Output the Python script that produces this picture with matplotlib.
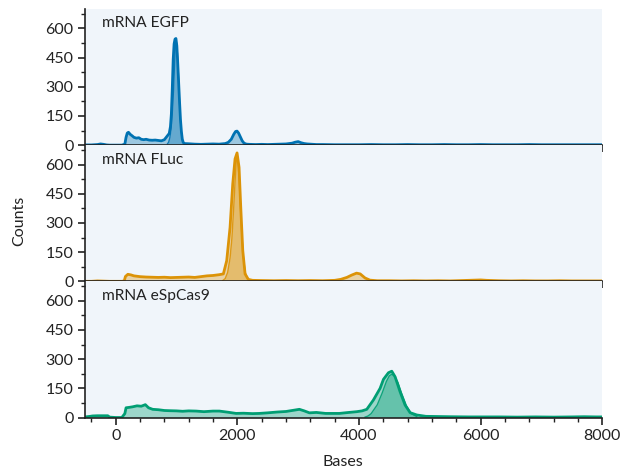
import matplotlib
matplotlib.use("Agg")
import matplotlib.pyplot as plt
from matplotlib.ticker import MultipleLocator

plt.rcParams['font.family'] = ['Lato', 'DejaVu Sans']

# ---- data ----
labels = ["mRNA EGFP", "mRNA FLuc", "mRNA eSpCas9"]
colors = ["#0072B2", "#DC9307", "#009E73"]

egfp_x = [-500, -400, -300, -250, -200, -150, -100, 0, 100, 150, 170, 190, 210, 240, 270,
          300, 340, 380, 420, 460, 500, 550, 600, 650, 700, 750, 800, 830, 860, 880, 900,
          915, 930, 945, 960, 975, 990, 1005, 1020, 1035, 1050, 1065, 1080, 1095, 1110,
          1130, 1200, 1300, 1400, 1500, 1600, 1700, 1800, 1850, 1900, 1940, 1970, 1995,
          2020, 2050, 2080, 2110, 2150, 2200, 2300, 2400, 2500, 2600, 2700, 2800, 2900,
          2950, 3000, 3050, 3100, 3150, 3200, 3300, 3400, 3600, 3800, 4000, 4200, 4400,
          4600, 4800, 5000, 5200, 5400, 5600, 5800, 6000, 6200, 6400, 6600, 6800, 7000,
          7200, 7400, 7600, 7800, 8000]
egfp_y = [1, 1, 3, 6, 4, 1, 0, 0, 0, 5, 40, 62, 66, 55, 48,
          40, 36, 38, 30, 28, 30, 26, 25, 26, 24, 22, 28, 40, 52, 60, 95,
          160, 290, 440, 520, 545, 548, 510, 420, 320, 220, 130, 70, 30, 14,
          8, 7, 5, 4, 5, 6, 5, 8, 14, 30, 55, 70, 72,
          62, 42, 22, 10, 5, 4, 3, 4, 3, 4, 5, 6, 10,
          15, 18, 12, 8, 6, 5, 3, 3, 2, 2, 2, 3, 2,
          2, 3, 2, 2, 3, 2, 2, 3, 2, 2, 2, 3, 2,
          2, 2, 2, 2, 2]
egfp_fit_x = [850, 870, 890, 910, 930, 950, 965, 980, 990, 1000, 1015, 1030, 1045, 1060, 1080, 1100, 1120]
egfp_fit_y = [6, 15, 38, 85, 165, 280, 400, 500, 535, 525, 470, 370, 250, 145, 65, 22, 7]

fluc_x = [-500, -400, -300, -200, -100, 0, 100, 140, 160, 200, 250, 300, 400, 500, 600,
          700, 800, 900, 1000, 1100, 1200, 1300, 1400, 1500, 1600, 1700, 1770, 1825, 1880,
          1924, 1962, 1995, 2028, 2056, 2089, 2127, 2180, 2250, 2400, 2600, 2800, 3000, 3200,
          3400, 3600, 3700, 3800, 3880, 3960, 4020, 4100, 4180, 4300, 4500, 4700, 4900, 5100,
          5300, 5500, 5700, 5900, 6000, 6100, 6300, 6500, 6700, 6900, 7100, 7300, 7500, 7700,
          7900, 8000]
fluc_y = [0, 0, 2, 1, 0, 0, 0, 2, 25, 36, 33, 28, 24, 22, 21,
          20, 21, 19, 20, 21, 22, 20, 24, 28, 30, 34, 38, 106, 277,
          500, 629, 660, 586, 380, 158, 38, 10, 5, 4, 3, 4, 3, 4,
          3, 5, 10, 20, 32, 42, 38, 17, 6, 3, 3, 2, 3, 2,
          3, 2, 4, 6, 7, 5, 3, 2, 3, 2, 2, 3, 2, 2,
          2, 2]
fluc_fit_x = [1760, 1800, 1840, 1880, 1910, 1940, 1960, 1980, 1995, 2010, 2030, 2050, 2070, 2100, 2130, 2170, 2210]
fluc_fit_y = [4, 14, 45, 120, 220, 380, 500, 610, 640, 615, 520, 390, 260, 120, 45, 12, 3]

cas9_x = [-500, -420, -380, -300, -200, -130, -100, 0, 100, 150, 170, 220, 279, 350, 420,
          487, 540, 608, 700, 800, 882, 1000, 1100, 1200, 1321, 1450, 1600, 1704, 1850, 1979,
          2100, 2250, 2362, 2500, 2650, 2801, 2900, 3020, 3100, 3185, 3300, 3450, 3678, 3800,
          3900, 3964, 4050, 4128, 4237, 4347, 4402, 4484, 4539, 4594, 4676, 4758, 4840, 4950,
          5100, 5300, 5500, 5800, 6000, 6300, 6600, 6900, 7200, 7500, 7700, 7900, 8000]
cas9_y = [3, 6, 8, 9, 9, 9, 2, 0, 0, 20, 50, 52, 55, 60, 58,
          66, 50, 42, 40, 36, 35, 34, 32, 34, 33, 30, 33, 33, 27, 21,
          22, 20, 21, 24, 28, 31, 36, 42, 34, 24, 26, 21, 21, 25,
          28, 30, 34, 42, 90, 150, 196, 230, 238, 209, 132, 64, 25, 13,
          6, 5, 4, 3, 3, 3, 2, 3, 2, 3, 4, 3, 3]
cas9_fit_x = [4100, 4150, 4200, 4300, 4380, 4450, 4500, 4540, 4580, 4640, 4700, 4780, 4860, 4950]
cas9_fit_y = [2, 8, 20, 65, 125, 185, 215, 222, 215, 180, 125, 60, 20, 5]

series = [(egfp_x, egfp_y, egfp_fit_x, egfp_fit_y),
          (fluc_x, fluc_y, fluc_fit_x, fluc_fit_y),
          (cas9_x, cas9_y, cas9_fit_x, cas9_fit_y)]

fig = plt.figure(figsize=(6.3, 4.7), dpi=100)
gs = fig.add_gridspec(3, 1, left=0.1354, right=0.956, top=0.981, bottom=0.1117, hspace=0)
axes = [fig.add_subplot(gs[i]) for i in range(3)]

for ax, lab, c, (x, y, fx, fy) in zip(axes, labels, colors, series):
    ax.set_facecolor("#f0f5fa")
    ax.fill_between(x, y, 0, color=c, alpha=0.35, lw=0)
    ax.fill_between(fx, fy, 0, color=c, alpha=0.35, lw=0)
    ax.plot(fx, fy, color=c, lw=1.0, alpha=0.9)
    ax.plot(x, y, color=c, lw=2.0)
    ax.set_xlim(-500, 8000)
    ax.set_ylim(0, 700)
    ax.yaxis.set_major_locator(MultipleLocator(150))
    ax.yaxis.set_minor_locator(MultipleLocator(75))
    ax.xaxis.set_major_locator(MultipleLocator(2000))
    ax.xaxis.set_minor_locator(MultipleLocator(400))
    for s in ["top", "right"]:
        ax.spines[s].set_visible(False)
    for s in ["left", "bottom"]:
        ax.spines[s].set_linewidth(1.2)
        ax.spines[s].set_color("#222222")
    ax.tick_params(which="major", direction="out", length=5, width=1.2, labelsize=11.5,
                   color="#222222", labelcolor="#222222")
    ax.tick_params(which="minor", direction="out", length=3, width=1.0, color="#222222")
    ax.text(0.032, 0.945, lab, transform=ax.transAxes, ha="left", va="top",
            fontsize=11.2, color="#222222")
    if ax is not axes[-1]:
        ax.tick_params(labelbottom=False)

fig.text(0.03, 0.53, "Counts", rotation=90, ha="center", va="center", fontsize=11.5, color="#222222")
fig.text(0.545, 0.018, "Bases", ha="center", va="center", fontsize=11.5, color="#222222")

fig.savefig("out.png", dpi=100)
